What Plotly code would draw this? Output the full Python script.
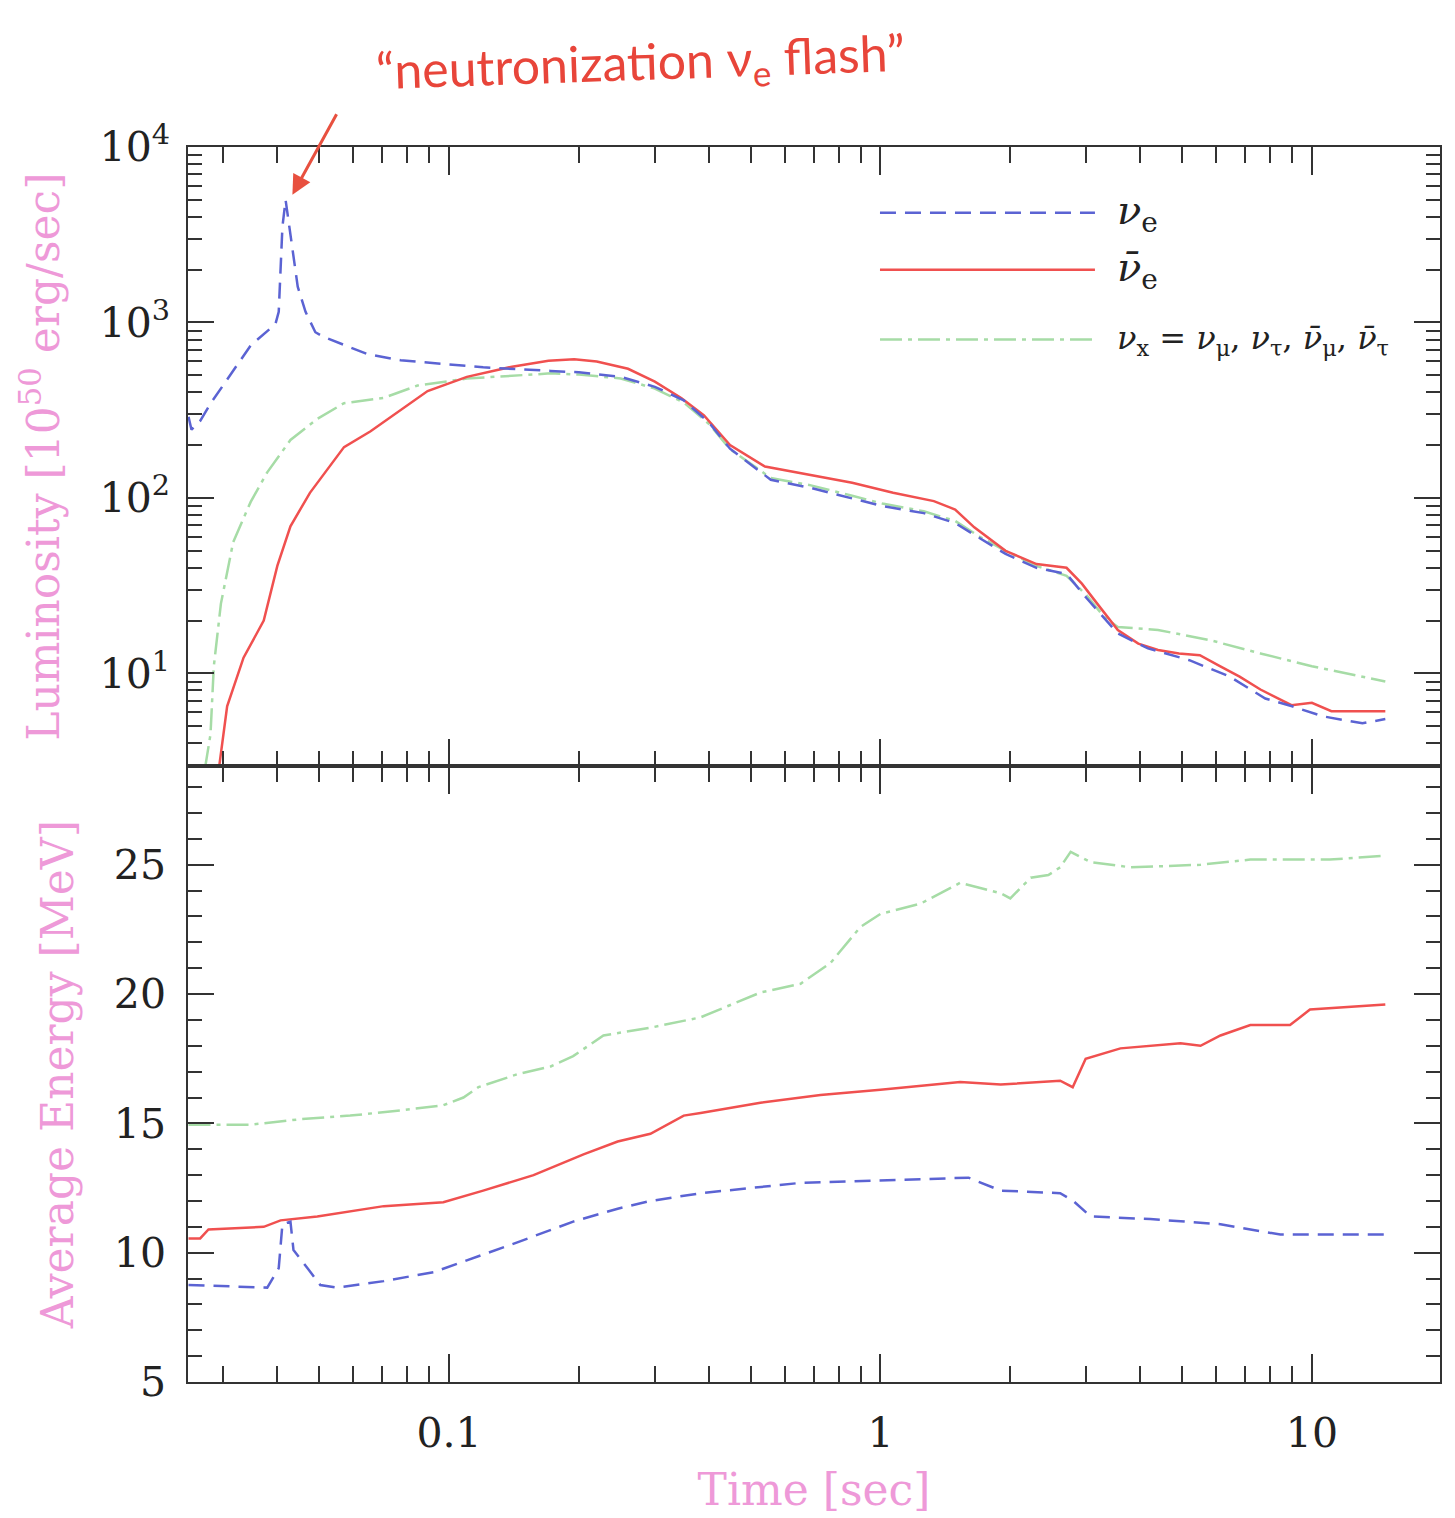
import plotly.graph_objects as go

# ---------------- data ----------------
# Luminosity [1e50 erg/s] vs time [s]
t_lum_nue = [0.0249, 0.0253, 0.0265, 0.028, 0.0347, 0.0396, 0.0403, 0.0411, 0.0418, 0.0429,
             0.0446, 0.0465, 0.049, 0.0511, 0.0647, 0.0772, 0.097, 0.12, 0.172, 0.2, 0.25,
             0.3, 0.35, 0.4, 0.448, 0.557, 0.69, 0.86, 1.01, 1.26, 1.49, 1.70, 1.95, 2.3,
             2.7, 3.0, 3.55, 4.17, 5.2, 6.45, 7.8, 9.0, 10.6, 13.1, 14.8]
lum_nue = [290, 245, 275, 345, 740, 980, 1150, 3500, 5000, 3200,
           1600, 1150, 880, 830, 660, 610, 580, 555, 530, 520, 490,
           430, 360, 270, 191, 127, 114, 100, 90, 82, 72, 59, 48, 40,
           36.9, 27, 16.9, 13.9, 11.9, 9.6, 7.2, 6.5, 5.7, 5.2, 5.5]

t_lum_nuebar = [0.0293, 0.0306, 0.0334, 0.0372, 0.04, 0.0429, 0.0476, 0.0571, 0.0658, 0.0772,
                0.0892, 0.11, 0.14, 0.17, 0.195, 0.22, 0.26, 0.3, 0.346, 0.39, 0.448, 0.54,
                0.656, 0.86, 1.07, 1.33, 1.49, 1.65, 1.95, 2.3, 2.7, 2.93, 3.18, 3.55, 3.96,
                4.4, 4.92, 5.5, 6.12, 6.8, 7.6, 8.97, 10.0, 11.1, 14.8]
lum_nuebar = [2.9, 6.5, 12.3, 20, 41, 69, 107, 195, 240, 316,
              407, 490, 560, 605, 617, 600, 545, 460, 370, 295, 200, 151,
              138, 122, 107, 96, 86, 68, 50, 42, 40, 32.5, 25, 17.7, 14.8,
              13.6, 13.0, 12.7, 11.0, 9.6, 8.1, 6.6, 6.8, 6.1, 6.1]

t_lum_nux = [0.0272, 0.028, 0.0285, 0.0296, 0.0316, 0.0347, 0.0379, 0.0429, 0.0495, 0.0571,
             0.0706, 0.0845, 0.11, 0.172, 0.2, 0.25, 0.3, 0.35, 0.4, 0.448, 0.557, 0.69,
             0.86, 1.01, 1.26, 1.49, 1.70, 1.95, 2.3, 2.7, 3.0, 3.3, 3.55, 4.4, 5.8, 7.6,
             10.0, 14.8]
lum_nux = [2.9, 4.5, 11, 25, 56, 95, 140, 214, 282, 347,
           372, 437, 479, 513, 505, 480, 420, 350, 265, 190, 130, 118,
           103, 93, 84, 74, 60, 50, 41, 36, 28, 21, 18.4, 17.7, 15.5, 13.0,
           11.0, 9.0]

# Average energy [MeV] vs time [s]
t_e_nue = [0.0249, 0.0379, 0.0403, 0.0411, 0.0429, 0.0436, 0.047, 0.0503, 0.055, 0.0706,
           0.0923, 0.11, 0.144, 0.194, 0.246, 0.293, 0.383, 0.653, 1.0, 1.6, 1.9, 2.61,
           2.8, 3.07, 4.22, 6.14, 8.45, 14.8]
e_nue = [8.75, 8.65, 9.4, 11.1, 11.2, 10.1, 9.4, 8.75, 8.65, 8.9,
         9.25, 9.7, 10.4, 11.2, 11.7, 12.0, 12.3, 12.7, 12.8, 12.9, 12.4, 12.3,
         12.0, 11.4, 11.3, 11.1, 10.7, 10.7]

t_e_nuebar = [0.0249, 0.0265, 0.0277, 0.0372, 0.0407, 0.0495, 0.0706, 0.097, 0.12, 0.157,
              0.205, 0.246, 0.293, 0.35, 0.383, 0.527, 0.726, 1.0, 1.53, 1.9, 2.61, 2.79,
              2.99, 3.6, 4.96, 5.52, 6.14, 7.2, 8.9, 9.9, 14.8]
e_nuebar = [10.55, 10.55, 10.9, 11.0, 11.25, 11.4, 11.8, 11.95, 12.4, 13.0,
            13.8, 14.3, 14.6, 15.3, 15.4, 15.8, 16.1, 16.3, 16.6, 16.5, 16.65, 16.4,
            17.5, 17.9, 18.1, 18.0, 18.4, 18.8, 18.8, 19.4, 19.6]

t_e_nux = [0.0249, 0.0347, 0.0452, 0.059, 0.0772, 0.097, 0.108, 0.117, 0.144, 0.172,
           0.194, 0.228, 0.293, 0.383, 0.527, 0.653, 0.766, 0.899, 1.0, 1.24, 1.53, 1.9,
           2.0, 2.23, 2.45, 2.61, 2.76, 3.07, 3.8, 5.52, 7.2, 11.0, 14.8]
e_nux = [14.95, 14.95, 15.16, 15.3, 15.5, 15.7, 16.0, 16.4, 16.9, 17.2,
         17.6, 18.4, 18.7, 19.1, 20.06, 20.4, 21.2, 22.6, 23.1, 23.5, 24.3, 23.9,
         23.7, 24.5, 24.6, 24.9, 25.5, 25.1, 24.9, 25.0, 25.2, 25.2, 25.35]

# tick definitions
x_major = [0.1, 1, 10]
x_major_text = ["0.1", "1", "10"]
x_minor = [m * d for d in (0.01, 0.1, 1) for m in range(2, 10) if m * d > 0.0248]
lum_major = [10, 100, 1000, 10000]
lum_major_text = ["10<sup>1</sup>", "10<sup>2</sup>", "10<sup>3</sup>", "10<sup>4</sup>"]
lum_minor = [m * d for d in (1, 10, 100, 1000) for m in range(2, 10) if m * d > 2.95]
e_major = [5, 10, 15, 20, 25]
e_minor = list(range(5, 29))

legend_labels = ["<i>ν</i><sub>e</sub>", "<i>ν̄</i><sub>e</sub>",
                 "<i>ν</i><sub>x</sub> = <i>ν</i><sub>μ</sub>, <i>ν</i><sub>τ</sub>, "
                 "<i>ν̄</i><sub>μ</sub>, <i>ν̄</i><sub>τ</sub>"]

BLUE = "#5b63d3"
RED = "#f0504f"
GREEN = "#a6dca6"
PINK = "#ee99d8"
AXC = "#333333"
FONT = "DejaVu Serif"

fig = go.Figure()

# top panel: luminosity
fig.add_trace(go.Scatter(x=t_lum_nux, y=lum_nux, mode="lines", xaxis="x", yaxis="y",
                         line=dict(color=GREEN, width=2.5, dash="22px,6px,4px,6px")))
fig.add_trace(go.Scatter(x=t_lum_nuebar, y=lum_nuebar, mode="lines", xaxis="x", yaxis="y",
                         line=dict(color=RED, width=2.5)))
fig.add_trace(go.Scatter(x=t_lum_nue, y=lum_nue, mode="lines", xaxis="x", yaxis="y",
                         line=dict(color=BLUE, width=2.5, dash="16px,9px")))
# bottom panel: energies
fig.add_trace(go.Scatter(x=t_e_nux, y=e_nux, mode="lines", xaxis="x2", yaxis="y2",
                         line=dict(color=GREEN, width=2.5, dash="22px,6px,4px,6px")))
fig.add_trace(go.Scatter(x=t_e_nuebar, y=e_nuebar, mode="lines", xaxis="x2", yaxis="y2",
                         line=dict(color=RED, width=2.5)))
fig.add_trace(go.Scatter(x=t_e_nue, y=e_nue, mode="lines", xaxis="x2", yaxis="y2",
                         line=dict(color=BLUE, width=2.5, dash="16px,9px")))

XR = [-1.605, 1.297]
split = 0.4984

common_axis = dict(showline=True, linecolor=AXC, linewidth=1.6, mirror="ticks",
                   ticks="inside", tickcolor=AXC, tickwidth=2, showgrid=False, zeroline=False,
                   tickfont=dict(family=FONT, size=41, color="#222222"))

fig.update_layout(
    width=1455, height=1518,
    margin=dict(l=188, r=15, t=147, b=133),
    paper_bgcolor="white", plot_bgcolor="white",
    showlegend=False,
    xaxis=dict(type="log", range=XR, domain=[0, 1], anchor="y",
               tickmode="array", tickvals=x_major, ticktext=x_major_text,
               showticklabels=False, ticklen=28,
               minor=dict(tickmode="array", tickvals=x_minor, ticks="inside",
                          ticklen=16, tickwidth=1.5, tickcolor=AXC),
               **common_axis),
    yaxis=dict(type="log", range=[0.47, 4.0], domain=[split, 1], anchor="x",
               tickmode="array", tickvals=lum_major, ticktext=lum_major_text,
               ticklen=26, ticklabelstandoff=8,
               minor=dict(tickmode="array", tickvals=lum_minor, ticks="inside",
                          ticklen=14, tickwidth=1.5, tickcolor=AXC),
               title=dict(text="Luminosity [10<sup>50</sup> erg/sec]",
                          font=dict(family=FONT, size=44, color=PINK), standoff=26),
               **common_axis),
    xaxis2=dict(type="log", range=XR, domain=[0, 1], anchor="y2", matches="x",
                tickmode="array", tickvals=x_major, ticktext=x_major_text,
                ticklen=28, ticklabelstandoff=14,
                minor=dict(tickmode="array", tickvals=x_minor, ticks="inside",
                           ticklen=16, tickwidth=1.5, tickcolor=AXC),
                title=dict(text="Time [sec]", font=dict(family=FONT, size=44, color=PINK),
                           standoff=18),
                **common_axis),
    yaxis2=dict(range=[5, 28.8], domain=[0, split], anchor="x2",
                tickmode="array", tickvals=e_major, ticklen=26, ticklabelstandoff=12,
                minor=dict(tickmode="array", tickvals=e_minor, ticks="inside",
                           ticklen=14, tickwidth=1.5, tickcolor=AXC),
                title=dict(text="Average Energy [MeV]",
                           font=dict(family=FONT, size=44, color=PINK), standoff=26),
                **common_axis),
)

# legend drawn as line samples + labels in paper coordinates (top panel)
leg_y = [0.9467, 0.9006, 0.8441]
leg_styles = [dict(color=BLUE, width=2.5, dash="16px,9px"),
              dict(color=RED, width=2.5),
              dict(color=GREEN, width=2.5, dash="22px,6px,4px,6px")]
leg_sizes = [40, 40, 32]
for yy, st, lab, fs in zip(leg_y, leg_styles, legend_labels, leg_sizes):
    fig.add_shape(type="line", xref="paper", yref="paper", x0=0.5527, x1=0.7244,
                  y0=yy, y1=yy, line=st)
    fig.add_annotation(xref="paper", yref="paper", x=0.7404, y=yy, text=lab,
                       showarrow=False, xanchor="left", yanchor="middle",
                       font=dict(family=FONT, size=fs, color="#222222"))

# hand-written style note with arrow to the neutronization peak
fig.add_annotation(x=-1.363, y=3.728, xref="x", yref="y", text="", showarrow=True,
                   arrowhead=2, arrowsize=1.3, arrowwidth=3, arrowcolor="#e8503f",
                   ax=45, ay=-82)
fig.add_annotation(xref="paper", yref="paper", x=0.3614, y=1.0, yshift=38,
                   text="“neutronization ν<sub>e</sub> flash”", showarrow=False,
                   xanchor="center", yanchor="bottom", textangle=-2,
                   font=dict(family="Lato", size=50, color="#e8453a"))

fig.write_html("out.html", config={"displayModeBar": False},
               post_script="document.body.style.margin='0px';")
